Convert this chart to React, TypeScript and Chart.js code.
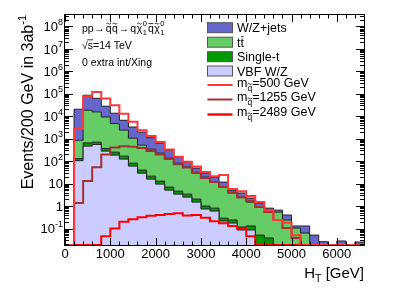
import { useEffect, useRef } from 'react';
import { Chart, registerables } from 'chart.js';

Chart.register(...registerables);

// ---------------- data (Events / 200 GeV in 3 ab^-1) ----------------
const binLowEdges = [
  0, 200, 400, 600, 800, 1000, 1200, 1400, 1600, 1800, 2000, 2200, 2400, 2600, 2800, 3000, 3200,
  3400, 3600, 3800, 4000, 4200, 4400, 4600, 4800, 5000, 5200, 5400, 5600, 5800, 6000, 6200, 6400,
];
const BIN_WIDTH = 200;

const vbfWZ = [
  0, 105, 464, 552, 278, 185, 123, 60, 29, 15.8, 9.5, 5.1, 3.4, 2.5, 1.5, 0.74, 0.6, 0.215, 0.175,
  0.086, 0.086, 0, 0, 0, 0, 0, 0, 0, 0, 0, 0, 0, 0,
];
const singleTop = [
  0, 24, 186, 148, 88, 66, 44, 21, 11, 5.7, 3.4, 1.9, 1.2, 0.9, 0.55, 0.26, 0.21, 0.075, 0.065,
  0.031, 0.044, 0.051, 0.038, 0, 0, 0, 0, 0, 0, 0, 0, 0, 0,
];
const ttbar = [
  0, 720, 17800, 14800, 8900, 4450, 2230, 970, 475, 320, 214, 129, 76, 51, 27, 18.5, 10.9, 6.7,
  3.6, 2.4, 1.37, 0.85, 0.62, 0.54, 0.24, 0.105, 0.063, 0, 0, 0, 0, 0, 0,
];
const wzJets = [
  0, 19650, 67500, 47500, 18700, 8900, 4200, 2250, 1440, 760, 403, 172, 69, 36, 20, 9.5, 7.8, 4.7,
  1.3, 1.3, 0.77, 0.46, 0.15, 0.12, 0.16, 0.025, 0.067, 0.051, 0.026, 0, 0.028, 0, 0.025,
];
const sig500 = [
  0, 2800, 78000, 120000, 61000, 31000, 13000, 5600, 2400, 1300, 720, 330, 155, 95, 57, 33, 21, 24,
  5.7, 4.6, 2.8, 1.5, 0.66, 0.24, 0.18, 0.05, 0, 0, 0, 0, 0, 0, 0,
];
const sig1255 = [
  0, 1.36, 13, 54, 195, 400, 460, 440, 380, 280, 195, 123, 73, 52, 31, 17.6, 11.7, 7, 4, 2.4,
  1.67, 0.9, 0.54, 0.24, 0.105, 0.038, 0, 0, 0, 0, 0, 0, 0,
];
const sig2489 = [
  0, 0, 0, 0, 0.045, 0.1, 0.2, 0.26, 0.32, 0.37, 0.4, 0.44, 0.48, 0.38, 0.4, 0.3, 0.21, 0.17,
  0.13, 0.1, 0.045, 0, 0, 0, 0, 0, 0, 0, 0, 0, 0, 0, 0,
];

const xTickValues = [0, 1000, 2000, 3000, 4000, 5000, 6000];
const xTickLabels = ['0', '1000', '2000', '3000', '4000', '5000', '6000'];
const yTickValues = [1e8, 1e7, 1e6, 1e5, 1e4, 1e3, 1e2, 10, 1, 0.1];
const yTickBases = ['10', '10', '10', '10', '10', '10', '10', '10', '1', '10'];
const yTickExps = ['8', '7', '6', '5', '4', '3', '2', '', '', '-1'];

const X_MIN = 0;
const X_MAX = 6600;
const Y_MIN = 0.0185;
const Y_MAX = 3.2e8;

// ---------------- styles ----------------
const FONT = '"Liberation Sans", Arial, Helvetica, sans-serif';
const C_WZ = '#6666cc';
const C_TT = '#66cc66';
const C_ST = '#009900';
const C_VBF = '#ccccff';
const C_OUT = '#222222';
const C_500 = 'rgb(255,55,55)';
const C_1255 = 'rgb(160,50,50)';
const C_2489 = 'rgb(255,0,0)';

function cumulative(...arrs: number[][]) {
  return arrs[0].map((_, i) => arrs.reduce((s, a) => s + a[i], 0));
}

function histPoints(values: number[]) {
  const pts = values.map((v, i) => ({ x: binLowEdges[i], y: Math.max(v, Y_MIN) }));
  const last = values.length - 1;
  pts.push({ x: binLowEdges[last] + BIN_WIDTH, y: Math.max(values[last], Y_MIN) });
  return pts;
}

type Seg = { t: string; size: number; dy?: number; acc?: 'tilde' | 'bar'; noAdv?: boolean; gap?: number };

function segW(ctx: CanvasRenderingContext2D, s: Seg) {
  ctx.font = `${s.size}px ${FONT}`;
  return ctx.measureText(s.t).width;
}

function drawTilde(ctx: CanvasRenderingContext2D, c: number, yy: number, hw: number) {
  ctx.beginPath();
  ctx.moveTo(c - hw, yy + 0.5);
  ctx.quadraticCurveTo(c - hw / 2, yy - 1.6, c, yy);
  ctx.quadraticCurveTo(c + hw / 2, yy + 1.6, c + hw, yy - 0.5);
  ctx.stroke();
}

function drawRich(
  ctx: CanvasRenderingContext2D,
  x: number,
  y: number,
  segs: Seg[],
  align: 'left' | 'right' = 'left'
) {
  ctx.textAlign = 'left';
  ctx.textBaseline = 'alphabetic';
  const total = segs.reduce((s, g) => s + (g.noAdv ? 0 : segW(ctx, g) + (g.gap ?? 0)), 0);
  let cx = align === 'right' ? x - total : x;
  for (const s of segs) {
    const w = segW(ctx, s);
    const by = y + (s.dy ?? 0);
    ctx.fillText(s.t, cx, by);
    if (s.acc) {
      ctx.save();
      ctx.strokeStyle = ctx.fillStyle as string;
      ctx.lineWidth = 0.8;
      if (s.acc === 'tilde') {
        drawTilde(ctx, cx + w / 2, by - s.size * 0.8, Math.max(w * 0.4, 2.2));
      } else {
        ctx.beginPath();
        ctx.moveTo(cx + 0.5, by - s.size * 0.8);
        ctx.lineTo(cx + w - 0.3, by - s.size * 0.8);
        ctx.stroke();
      }
      ctx.restore();
    }
    if (!s.noAdv) cx += w + (s.gap ?? 0);
  }
}

const rootPlugin = {
  id: 'rootStyle',
  beforeDatasetsDraw(chart: any) {
    const { ctx, chartArea: a } = chart;
    ctx.save();
    ctx.strokeStyle = '#000';
    ctx.lineWidth = 1;
    ctx.strokeRect(a.left - 0.5, a.top - 0.5, a.right - a.left + 1, a.bottom - a.top + 1);
    ctx.restore();
  },
  afterDatasetsDraw(chart: any) {
    const { ctx, chartArea: a } = chart;
    const xs = chart.scales.x;
    const ys = chart.scales.y;
    ctx.save();
    ctx.strokeStyle = '#000';
    ctx.lineWidth = 1;
    ctx.beginPath();
    for (let v = X_MIN; v <= X_MAX; v += BIN_WIDTH) {
      const px = Math.round(xs.getPixelForValue(v)) + 0.5;
      const len = v % 1000 === 0 ? 7 : 3.5;
      ctx.moveTo(px, a.bottom);
      ctx.lineTo(px, a.bottom - len);
      ctx.moveTo(px, a.top);
      ctx.lineTo(px, a.top + len);
    }
    for (let k = -2; k <= 8; k++) {
      for (let m = 1; m <= 9; m++) {
        const v = m * Math.pow(10, k);
        if (v < Y_MIN || v > Y_MAX) continue;
        const py = Math.round(ys.getPixelForValue(v)) + 0.5;
        const len = m === 1 ? 8 : 4;
        ctx.moveTo(a.left, py);
        ctx.lineTo(a.left + len, py);
        ctx.moveTo(a.right, py);
        ctx.lineTo(a.right - len, py);
      }
    }
    ctx.stroke();
    ctx.restore();
  },
  afterDraw(chart: any) {
    const { ctx, chartArea: a } = chart;
    const xs = chart.scales.x;
    const ys = chart.scales.y;
    ctx.save();
    ctx.fillStyle = '#000';
    ctx.textBaseline = 'alphabetic';

    // x tick labels
    ctx.font = `13px ${FONT}`;
    ctx.textAlign = 'center';
    xTickValues.forEach((v, i) => {
      ctx.fillText(xTickLabels[i], xs.getPixelForValue(v), a.bottom + 12.5);
    });

    // y tick labels
    yTickValues.forEach((v, i) => {
      const py = ys.getPixelForValue(v);
      const segs: Seg[] = [{ t: yTickBases[i], size: 13, dy: 4.7 }];
      if (yTickExps[i]) segs.push({ t: yTickExps[i], size: 9, dy: -1.4 });
      drawRich(ctx, a.left - 2, py, segs, 'right');
    });

    // axis titles
    drawRich(
      ctx,
      a.right,
      278,
      [
        { t: 'H', size: 15 },
        { t: 'T', size: 10.5, dy: 4 },
        { t: ' [GeV]', size: 15 },
      ],
      'right'
    );
    ctx.save();
    ctx.translate(32.5, a.top);
    ctx.rotate(-Math.PI / 2);
    drawRich(
      ctx,
      0,
      0,
      [
        { t: 'Events/200 GeV in 3ab', size: 16 },
        { t: '-1', size: 11, dy: -6.5 },
      ],
      'right'
    );
    ctx.restore();

    // process text
    drawRich(ctx, 82, 32, [
      { t: 'pp', size: 10.5, gap: 0.5 },
      { t: '\u2192', size: 10.5, gap: 1 },
      { t: 'q', size: 10.5, acc: 'tilde', gap: 0.5 },
      { t: 'q', size: 10.5, acc: 'tilde', gap: 1 },
      { t: '\u2192', size: 10.5, gap: 1 },
      { t: 'q', size: 10.5, gap: 0.5 },
      { t: '\u03c7', size: 10.5, acc: 'tilde', gap: 0.5 },
      { t: '0', size: 7.5, dy: -6, noAdv: true },
      { t: '1', size: 7.5, dy: 2.5, gap: 1 },
      { t: 'q', size: 10.5, acc: 'bar', gap: 0.5 },
      { t: '\u03c7', size: 10.5, acc: 'tilde', gap: 0.5 },
      { t: '0', size: 7.5, dy: -6, noAdv: true },
      { t: '1', size: 7.5, dy: 2.5 },
    ]);
    drawRich(ctx, 82, 49, [
      { t: '\u221a', size: 10.5 },
      { t: 's', size: 10.5 },
      { t: '=14 TeV', size: 10.5 },
    ]);
    // overline of sqrt
    ctx.font = `10.5px ${FONT}`;
    const sqW = ctx.measureText('\u221a').width;
    const sW = ctx.measureText('s').width;
    ctx.strokeStyle = '#000';
    ctx.lineWidth = 0.8;
    ctx.beginPath();
    ctx.moveTo(82 + sqW - 0.5, 49 - 9.2);
    ctx.lineTo(82 + sqW + sW, 49 - 9.2);
    ctx.stroke();
    drawRich(ctx, 82, 66, [{ t: '0 extra int/Xing', size: 10.5 }]);

    // legend
    const LX = 207.5;
    const LW = 25;
    const TX = 237;
    const boxes: { segs: Seg[]; color: string; cy: number }[] = [
      { segs: [{ t: 'W/Z+jets', size: 12.5 }], color: C_WZ, cy: 27.7 },
      {
        segs: [
          { t: 't', size: 12.5 },
          { t: 't', size: 12.5, acc: 'bar' },
        ],
        color: C_TT,
        cy: 42.2,
      },
      { segs: [{ t: 'Single-t', size: 12.5 }], color: C_ST, cy: 56.7 },
      { segs: [{ t: 'VBF W/Z', size: 12.5 }], color: C_VBF, cy: 71 },
    ];
    boxes.forEach((b) => {
      ctx.fillStyle = b.color;
      ctx.fillRect(LX, b.cy - 5, LW, 10);
      ctx.strokeStyle = '#555';
      ctx.lineWidth = 1;
      ctx.strokeRect(LX, b.cy - 5, LW, 10);
      ctx.fillStyle = '#000';
      drawRich(ctx, TX, b.cy + 4.5, b.segs);
    });
    const lines = [
      { mass: '500', color: C_500, w: 2, ly: 85 },
      { mass: '1255', color: C_1255, w: 2, ly: 99.5 },
      { mass: '2489', color: C_2489, w: 2.4, ly: 114.5 },
    ];
    lines.forEach((l) => {
      ctx.strokeStyle = l.color;
      ctx.lineWidth = l.w;
      ctx.beginPath();
      ctx.moveTo(LX, l.ly);
      ctx.lineTo(LX + LW, l.ly);
      ctx.stroke();
      ctx.fillStyle = '#000';
      drawRich(ctx, TX, l.ly + 1.5, [
        { t: 'm', size: 12.5 },
        { t: 'q', size: 8.5, dy: 4.3, acc: 'tilde' },
        { t: `=${l.mass} GeV`, size: 12.5 },
      ]);
    });
    ctx.restore();
  },
};

export default function App() {
  const ref = useRef<HTMLCanvasElement>(null);

  useEffect(() => {
    const canvas = ref.current;
    if (!canvas) return;
    const cumVBF = cumulative(vbfWZ);
    const cumST = cumulative(vbfWZ, singleTop);
    const cumTT = cumulative(vbfWZ, singleTop, ttbar);
    const cumWZ = cumulative(vbfWZ, singleTop, ttbar, wzJets);
    const common = { stepped: true as const, pointRadius: 0, tension: 0 };

    const chart = new Chart(canvas, {
      type: 'line',
      data: {
        datasets: [
          { label: 'm=500 GeV', data: histPoints(sig500), borderColor: C_500, borderWidth: 2, fill: false, ...common },
          { label: 'm=1255 GeV', data: histPoints(sig1255), borderColor: C_1255, borderWidth: 2, fill: false, ...common },
          { label: 'm=2489 GeV', data: histPoints(sig2489), borderColor: C_2489, borderWidth: 2, fill: false, ...common },
          { label: 'VBF W/Z', data: histPoints(cumVBF), borderColor: C_OUT, backgroundColor: C_VBF, borderWidth: 1, fill: 'start', ...common },
          { label: 'Single-t', data: histPoints(cumST), borderColor: C_OUT, backgroundColor: C_ST, borderWidth: 1, fill: '-1', ...common },
          { label: 'tt', data: histPoints(cumTT), borderColor: C_OUT, backgroundColor: C_TT, borderWidth: 1, fill: '-1', ...common },
          { label: 'W/Z+jets', data: histPoints(cumWZ), borderColor: C_OUT, backgroundColor: C_WZ, borderWidth: 1, fill: '-1', ...common },
        ],
      },
      options: {
        animation: false,
        responsive: false,
        devicePixelRatio: 1,
        events: [],
        layout: { padding: { left: 65, right: 41, top: 15, bottom: 46 } },
        plugins: { legend: { display: false }, tooltip: { enabled: false } },
        scales: {
          x: { type: 'linear', min: X_MIN, max: X_MAX, display: false },
          y: { type: 'logarithmic', min: Y_MIN, max: Y_MAX, display: false },
        },
      },
      plugins: [rootPlugin],
    } as any);

    return () => chart.destroy();
  }, []);

  return (
    <div style={{ position: 'absolute', left: 0, top: 0, width: 405, height: 291, background: '#fff' }}>
      <canvas ref={ref} width={405} height={291} style={{ display: 'block', width: 405, height: 291 }} />
    </div>
  );
}
